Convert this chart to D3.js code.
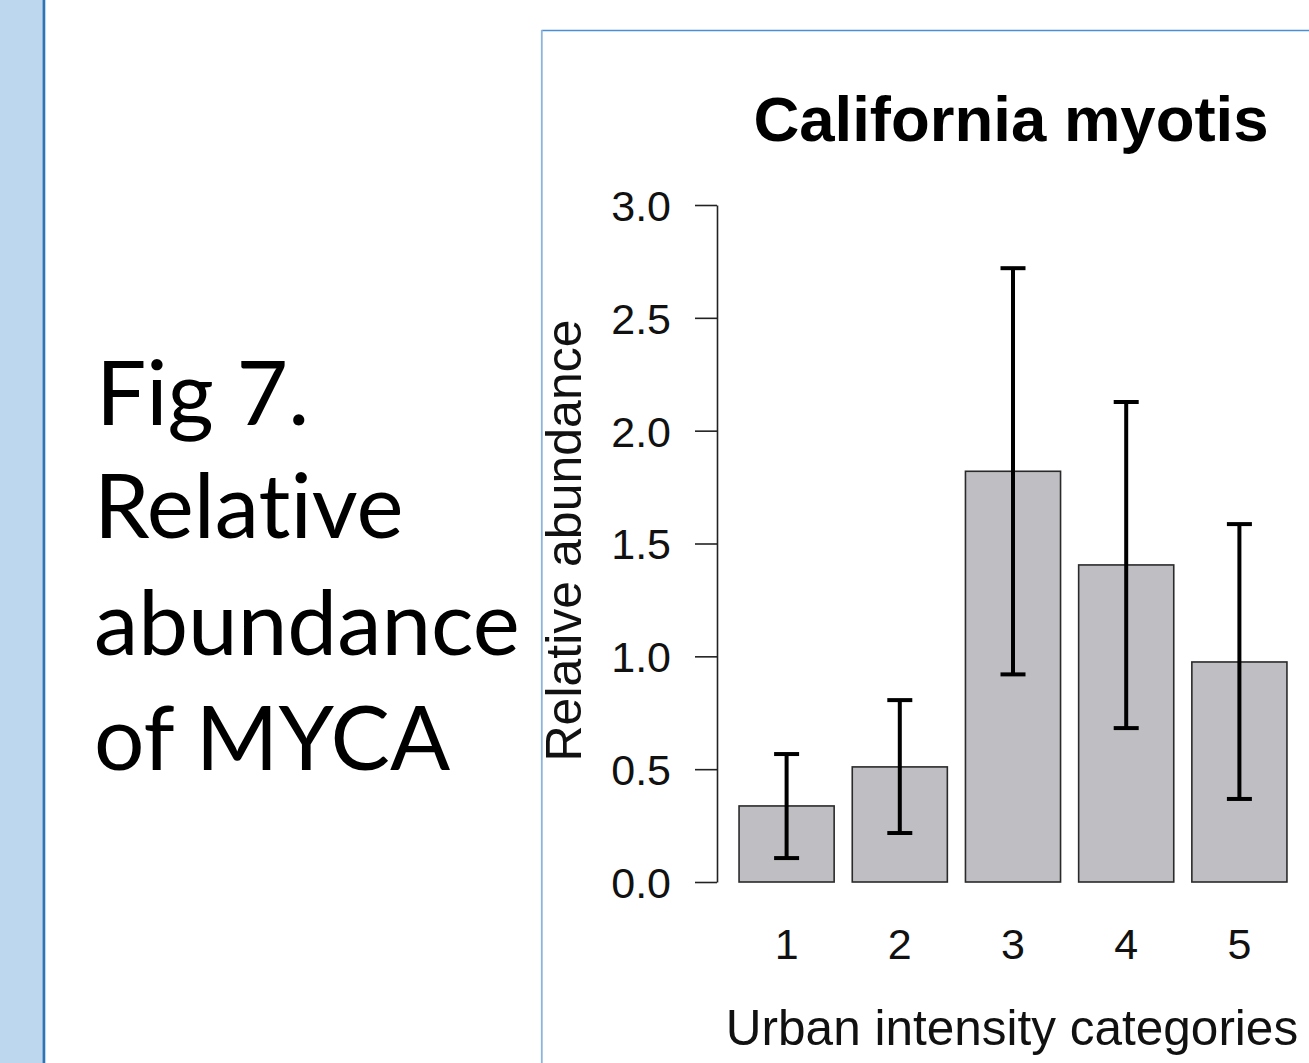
<!DOCTYPE html>
<html>
<head>
<meta charset="utf-8">
<script src="https://cdn.jsdelivr.net/npm/d3@7"></script>
<style>
  html, body { margin: 0; padding: 0; background: #ffffff; }
  svg { display: block; }
  text { font-variant-ligatures: none; font-feature-settings: "liga" 0, "clig" 0; }
</style>
</head>
<body>
<svg id="chart" width="1309" height="1063"></svg>
<script>
// ---- data ----
const categories = ["1", "2", "3", "4", "5"];
const means = [0.337, 0.51, 1.82, 1.405, 0.975];
const upper = [0.567, 0.806, 2.72, 2.127, 1.586];
const lower = [0.106, 0.217, 0.92, 0.682, 0.368];
const yTicks = [0.0, 0.5, 1.0, 1.5, 2.0, 2.5, 3.0];
const titleText = "California myotis";
const yLabel = "Relative abundance";
const xLabel = "Urban intensity categories";
const captionLines = ["Fig 7.", "Relative", "abundance", "of MYCA"];

const svg = d3.select("#chart");

// slide decoration: left band
svg.append("rect").attr("x", 0).attr("y", 0).attr("width", 42.5).attr("height", 1063).attr("fill", "#bdd7ee");
svg.append("rect").attr("x", 42.5).attr("y", 0).attr("width", 2.8).attr("height", 1063).attr("fill", "#2e75b6");

// frame of the image
svg.append("line").attr("x1", 541.5).attr("x2", 1309).attr("y1", 30.5).attr("y2", 30.5)
  .attr("stroke", "#4a8fd6").attr("stroke-width", 1.6);
svg.append("line").attr("x1", 541.8).attr("x2", 541.8).attr("y1", 30).attr("y2", 1063)
  .attr("stroke", "#8db4dd").attr("stroke-width", 1.8);

// caption
const capBaselines = [425, 538, 655, 770];
const cap = svg.append("g").attr("font-family", "Lato, 'Open Sans', sans-serif").attr("fill", "#000");
cap.selectAll("text").data(captionLines).join("text")
  .attr("x", (d, i) => i === 0 ? 96 : 94)
  .attr("y", (d, i) => capBaselines[i])
  .attr("font-size", 89)
  .text(d => d);

// scales
const x = d3.scaleBand().domain(categories).range([730, 1296]).paddingInner(0.16).paddingOuter(0.08);
const y = d3.scaleLinear().domain([0, 3]).range([882, 205]);

const font = "'Liberation Sans', Arial, Helvetica, sans-serif";

// bars
svg.append("g").selectAll("rect").data(categories).join("rect")
  .attr("x", d => x(d))
  .attr("y", (d, i) => y(means[i]))
  .attr("width", x.bandwidth())
  .attr("height", (d, i) => y(0) - y(means[i]))
  .attr("fill", "#bfbfc3")
  .attr("stroke", "#2a2a2a")
  .attr("stroke-width", 1.6);

// error bars
const eb = svg.append("g").attr("stroke", "#000").attr("stroke-width", 4).attr("fill", "none");
const capW = 12.5;
categories.forEach((c, i) => {
  const cx = x(c) + x.bandwidth() / 2;
  eb.append("line").attr("x1", cx).attr("x2", cx).attr("y1", y(upper[i])).attr("y2", y(lower[i]));
  eb.append("line").attr("x1", cx - capW).attr("x2", cx + capW).attr("y1", y(upper[i])).attr("y2", y(upper[i]));
  eb.append("line").attr("x1", cx - capW).attr("x2", cx + capW).attr("y1", y(lower[i])).attr("y2", y(lower[i]));
});

// y axis
const yAxis = svg.append("g").attr("transform", "translate(717,0)")
  .call(d3.axisLeft(y).tickValues(yTicks).tickFormat(d3.format(".1f")).tickSize(22).tickSizeOuter(0).tickPadding(24));
yAxis.select(".domain").attr("stroke", "#222").attr("stroke-width", 1.6);
yAxis.selectAll(".tick line").attr("stroke", "#222").attr("stroke-width", 1.6);
yAxis.selectAll(".tick text").attr("font-family", font).attr("font-size", 43).attr("fill", "#111").attr("dy", "0.36em");

// x axis labels
const xAxis = svg.append("g").attr("transform", "translate(0,882)")
  .call(d3.axisBottom(x).tickSize(0).tickPadding(46));
xAxis.select(".domain").remove();
xAxis.selectAll(".tick text").attr("font-family", font).attr("font-size", 43).attr("fill", "#111");

// title
svg.append("text").attr("x", 1011).attr("y", 141).attr("text-anchor", "middle")
  .attr("font-family", font).attr("font-weight", "bold").attr("font-size", 63.5).attr("fill", "#000")
  .text(titleText);

// axis titles
svg.append("text").attr("transform", "translate(581,540.5) rotate(-90)").attr("text-anchor", "middle")
  .attr("font-family", font).attr("font-size", 50).attr("fill", "#111").text(yLabel);
svg.append("text").attr("x", 1012).attr("y", 1045).attr("text-anchor", "middle")
  .attr("font-family", font).attr("font-size", 49.5).attr("fill", "#111").text(xLabel);
</script>
</body>
</html>
